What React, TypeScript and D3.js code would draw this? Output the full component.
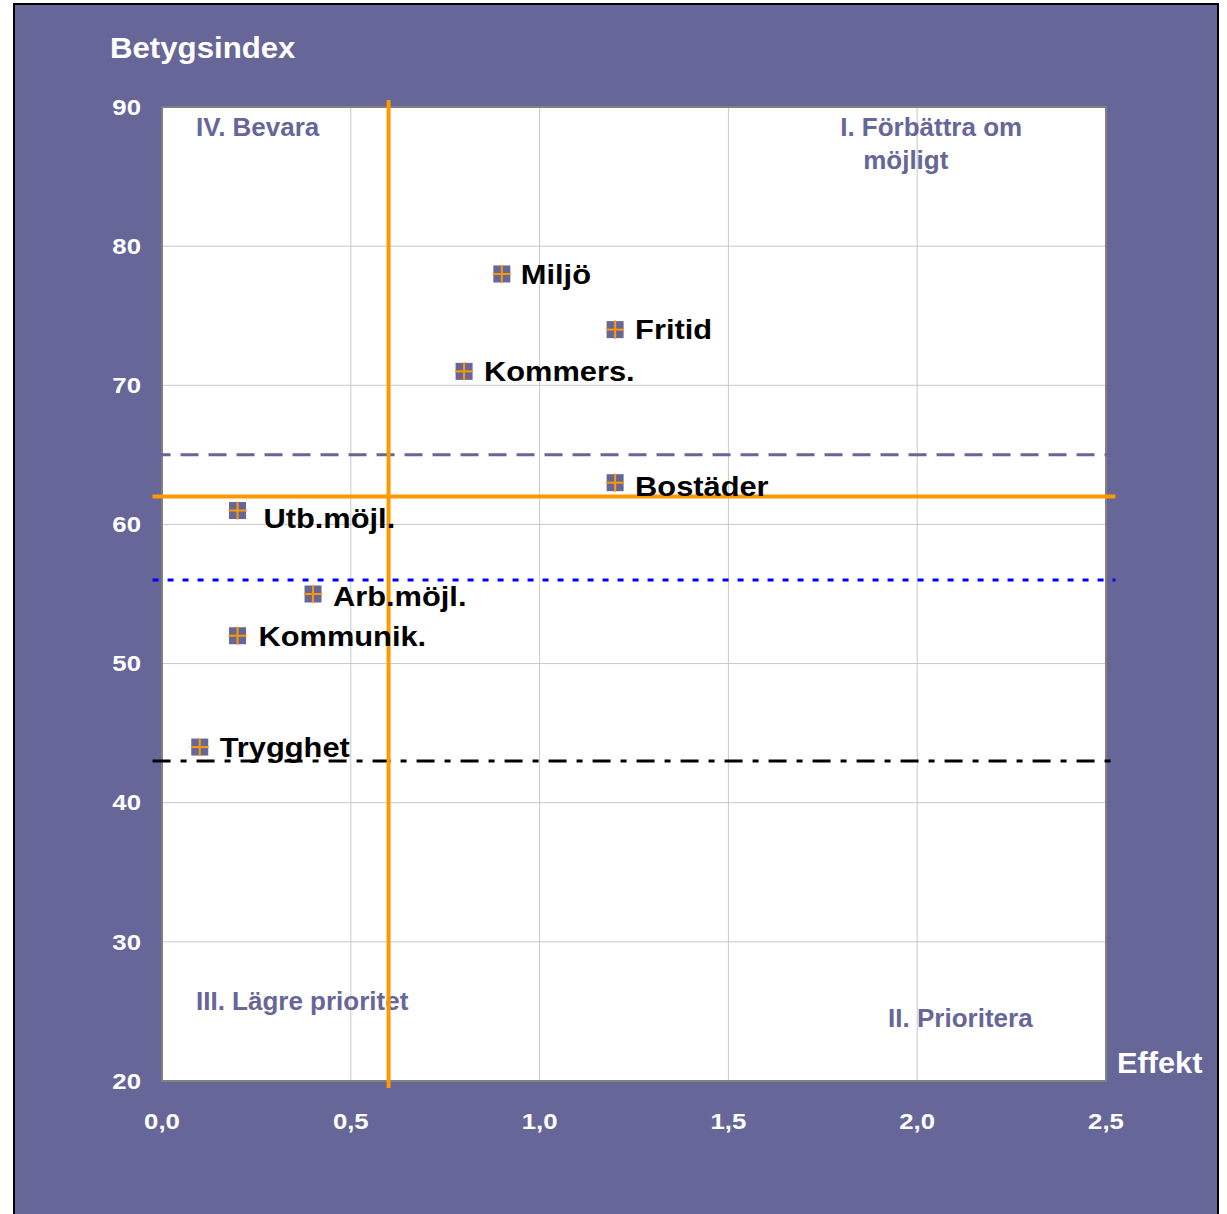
import React from "react";
import * as d3 from "d3";

const categories = ["Miljö", "Fritid", "Kommers.", "Bostäder", "Utb.möjl.", "Arb.möjl.", "Kommunik.", "Trygghet"];
const effektValues = [0.9, 1.2, 0.8, 1.2, 0.2, 0.4, 0.2, 0.1];
const betygValues = [78, 74, 71, 63, 61, 55, 52, 44];
const labelDx = [19, 20, 20, 20, 26, 20, 21, 20];
const labelDy = [0, 0, 0, 4, 8, 2, 0, 0];
const xTicks = [0, 0.5, 1, 1.5, 2, 2.5];
const yTicks = [20, 30, 40, 50, 60, 70, 80, 90];
const quadrantLabels = [
  { lines: ["IV. Bevara"], x: 0.09, y: 87.9 },
  { lines: ["I. Förbättra om", "möjligt"], x: 1.796, y: 87.9 },
  { lines: ["III. Lägre prioritet"], x: 0.09, y: 25.1 },
  { lines: ["II. Prioritera"], x: 1.923, y: 23.9 },
];
const orangeX = 0.6;
const orangeY = 62;
const purpleDashY = 65;
const blueDotY = 56;
const blackDashDotY = 43;

const W = 1227;
const H = 1214;
const BG = "#666699";
const ORANGE = "#ff9900";
const FONT = "'Liberation Sans', Arial, sans-serif";

function ST(props: {
  x: number;
  y: number;
  sx?: number;
  size: number;
  fill: string;
  anchor?: string;
  dy?: string;
  children: React.ReactNode;
}) {
  const { x, y, sx = 1, size, fill, anchor = "start", dy, children } = props;
  return (
    <text
      transform={`translate(${x},${y}) scale(${sx},1)`}
      x={0}
      y={0}
      dy={dy}
      textAnchor={anchor}
      fill={fill}
      fontWeight="bold"
      fontSize={size}
    >
      {children}
    </text>
  );
}

export default function App() {
  const x = d3.scaleLinear().domain([0, 2.5]).range([162, 1106]);
  const y = d3.scaleLinear().domain([20, 90]).range([1081, 107]);
  const fmt = (v: number) => d3.format(".1f")(v).replace(".", ",");
  const ext0 = x(-0.025);
  const ext1 = x(2.525);

  return (
    <svg
      width={W}
      height={H}
      style={{ position: "fixed", left: 0, top: 0, background: "#ffffff" }}
      fontFamily={FONT}
    >
      <rect x={14} y={4} width={1204} height={1230} fill={BG} stroke="#000" strokeWidth={2} />
      <rect x={x(0)} y={y(90)} width={x(2.5) - x(0)} height={y(20) - y(90)} fill="#fff" />
      {xTicks.map((t) => (
        <line key={"gx" + t} x1={x(t)} x2={x(t)} y1={y(90)} y2={y(20)} stroke="#c8c8c8" strokeWidth={1} />
      ))}
      {yTicks.map((t) => (
        <line key={"gy" + t} x1={x(0)} x2={x(2.5)} y1={y(t)} y2={y(t)} stroke="#c8c8c8" strokeWidth={1} />
      ))}
      <rect
        x={x(0)}
        y={y(90)}
        width={x(2.5) - x(0)}
        height={y(20) - y(90)}
        fill="none"
        stroke="#808080"
        strokeWidth={2}
      />
      {yTicks.map((t) => (
        <ST key={"ty" + t} x={141} y={y(t)} dy="0.35em" anchor="end" fill="#fff" size={22} sx={1.17}>
          {t}
        </ST>
      ))}
      {xTicks.map((t) => (
        <ST key={"tx" + t} x={x(t)} y={1129} anchor="middle" fill="#fff" size={22} sx={1.17}>
          {fmt(t)}
        </ST>
      ))}
      <ST x={110} y={58} fill="#fff" size={30} sx={1.04}>
        Betygsindex
      </ST>
      <ST x={1117} y={1073} fill="#fff" size={29} sx={1.06}>
        Effekt
      </ST>
      {quadrantLabels.map((q, i) => (
        <text key={"q" + i} x={x(q.x)} y={y(q.y)} fill={BG} fontWeight="bold" fontSize={26}>
          {q.lines.map((l, j) => (
            <tspan key={j} x={x(q.x) + (j > 0 ? 23 : 0)} dy={j === 0 ? 0 : 33}>
              {l}
            </tspan>
          ))}
        </text>
      ))}
      <line x1={ext0} x2={ext1} y1={y(purpleDashY)} y2={y(purpleDashY)} stroke={BG} strokeWidth={3} strokeDasharray="18 10" />
      <line x1={ext0} x2={ext1} y1={y(blueDotY)} y2={y(blueDotY)} stroke="#0000ff" strokeWidth={3} strokeDasharray="6 9" />
      <line
        x1={ext0}
        x2={ext1}
        y1={y(blackDashDotY)}
        y2={y(blackDashDotY)}
        stroke="#000"
        strokeWidth={3}
        strokeDasharray="18 10 6 10"
      />
      <line x1={ext0} x2={ext1} y1={y(orangeY)} y2={y(orangeY)} stroke={ORANGE} strokeWidth={4} />
      <line x1={x(orangeX)} x2={x(orangeX)} y1={y(90.5)} y2={y(19.5)} stroke={ORANGE} strokeWidth={4} />
      {categories.map((c, i) => {
        const cx = x(effektValues[i]);
        const cy = y(betygValues[i]);
        return (
          <g key={c}>
            <rect x={cx - 8.5} y={cy - 8.5} width={17} height={17} fill={BG} />
            <line x1={cx - 9} x2={cx + 9} y1={cy} y2={cy} stroke={ORANGE} strokeWidth={2} />
            <line x1={cx} x2={cx} y1={cy - 9} y2={cy + 9} stroke={ORANGE} strokeWidth={2} />
          </g>
        );
      })}
      {categories.map((c, i) => (
        <ST
          key={"l" + c}
          x={x(effektValues[i]) + labelDx[i]}
          y={y(betygValues[i]) + labelDy[i]}
          dy="0.35em"
          fill="#000"
          size={28}
          sx={1.1}
        >
          {c}
        </ST>
      ))}
    </svg>
  );
}
